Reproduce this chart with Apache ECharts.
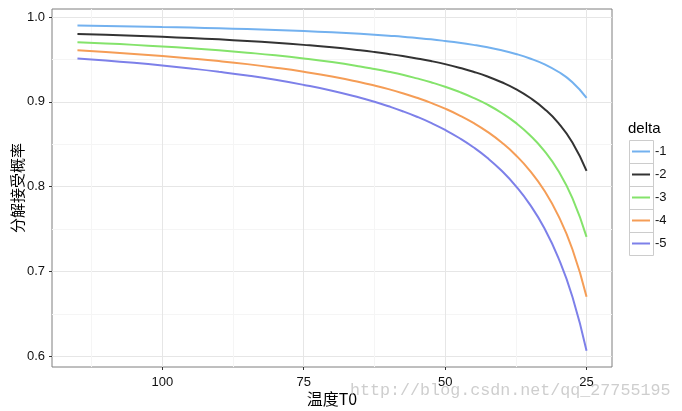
<!DOCTYPE html>
<html><head><meta charset="utf-8">
<script src="https://cdn.jsdelivr.net/npm/echarts@6/dist/echarts.min.js"></script>
<style>html,body{margin:0;padding:0;background:#fff}#c{width:682px;height:411px}</style>
</head><body><div id="c"></div>
<script>
// Temperature T0 (x)
const temps = [115,110,105,100,95,90,85,80,75,70,65,62.5,60,57.5,55,52.5,50,47.5,45,42.5,40,37.5,35,32.5,30,27.5,25];
// acceptance probability per delta
const d1 = [0.9900,0.9895,0.9890,0.9883,0.9876,0.9868,0.9858,0.9847,0.9835,0.9820,0.9802,0.9792,0.9780,0.9768,0.9753,0.9737,0.9718,0.9697,0.9672,0.9643,0.9608,0.9565,0.9512,0.9445,0.9355,0.9231,0.9048];
const d2 = [0.9801,0.9792,0.9780,0.9767,0.9753,0.9737,0.9718,0.9697,0.9672,0.9643,0.9608,0.9588,0.9565,0.9540,0.9512,0.9481,0.9445,0.9403,0.9355,0.9299,0.9231,0.9150,0.9048,0.8920,0.8752,0.8521,0.8187];
const d3 = [0.9704,0.9689,0.9672,0.9653,0.9632,0.9608,0.9580,0.9549,0.9512,0.9469,0.9418,0.9388,0.9355,0.9319,0.9277,0.9231,0.9179,0.9118,0.9048,0.8967,0.8869,0.8752,0.8607,0.8425,0.8187,0.7866,0.7408];
const d4 = [0.9608,0.9588,0.9565,0.9540,0.9512,0.9481,0.9445,0.9403,0.9355,0.9299,0.9231,0.9192,0.9150,0.9102,0.9048,0.8988,0.8920,0.8842,0.8752,0.8646,0.8521,0.8371,0.8187,0.7957,0.7659,0.7262,0.6703];
const d5 = [0.9512,0.9487,0.9460,0.9429,0.9394,0.9355,0.9311,0.9260,0.9200,0.9131,0.9048,0.9001,0.8948,0.8890,0.8825,0.8752,0.8669,0.8574,0.8465,0.8338,0.8187,0.8007,0.7788,0.7515,0.7165,0.6703,0.6065];
const seriesNames = ['-1','-2','-3','-4','-5'];
const seriesData = [d1,d2,d3,d4,d5];
const colors = ['#73b1ef','#333333','#84e36b','#f59d56','#7d80e9'];
const xTicks = [25,50,75,100];
const xMinor = [37.5,62.5,87.5,112.5];
const yTicks = [0.6,0.7,0.8,0.9,1.0];
const yMinor = [0.65,0.75,0.85,0.95];

const chart = echarts.init(document.getElementById('c'));
const grid = {left:52, right:70, top:9, bottom:44, show:true, borderColor:'#7f7f7f', borderWidth:1,
  backgroundColor:'#fff', containLabel:false, outerBoundsMode:'none'};
const font = 'Liberation Sans, Arial, sans-serif';
const cjk = '"Noto Sans CJK SC", sans-serif';
const xRange = {min:20.5, max:119.5};
const yRange = {min:0.5874, max:1.0095};

const option = {
  animation:false,
  grid: grid,
  xAxis: [
    {type:'value', inverse:true, min:xRange.min, max:xRange.max,
     name:'温度T0', nameLocation:'middle', nameGap:24, nameMoveOverlap:false,
     nameTextStyle:{fontFamily:cjk, fontSize:16, color:'#000', verticalAlign:'top'},
     axisLine:{show:false},
     axisTick:{show:true, length:3, customValues:xTicks, lineStyle:{color:'#333'}},
     axisLabel:{customValues:xTicks, margin:9, fontFamily:font, fontSize:13, color:'#111'},
     splitLine:{show:true, lineStyle:{color:'#e6e6e6', width:1}}},
    {type:'value', inverse:true, min:xRange.min, max:xRange.max, show:true, position:'bottom',
     axisLine:{show:false}, axisLabel:{show:false},
     axisTick:{show:false, customValues:xMinor},
     splitLine:{show:true, lineStyle:{color:'#f5f5f5', width:1}}}
  ],
  yAxis: [
    {type:'value', min:yRange.min, max:yRange.max,
     name:'分解接受概率', nameLocation:'middle', nameGap:27, nameRotate:90, nameMoveOverlap:false,
     nameTextStyle:{fontFamily:cjk, fontSize:15, color:'#000'},
     axisLine:{show:false},
     axisTick:{show:true, length:3, customValues:yTicks, lineStyle:{color:'#333'}},
     axisLabel:{customValues:yTicks, margin:7, fontFamily:font, fontSize:13, color:'#111',
                formatter: v => v.toFixed(1)},
     splitLine:{show:true, lineStyle:{color:'#e6e6e6', width:1}}},
    {type:'value', min:yRange.min, max:yRange.max, show:true, position:'left',
     axisLine:{show:false}, axisLabel:{show:false},
     axisTick:{show:false, customValues:yMinor},
     splitLine:{show:true, lineStyle:{color:'#f5f5f5', width:1}}}
  ],
  legend: {
    orient:'vertical', left:632, top:140, itemGap:0, itemWidth:18, itemHeight:2, padding:0,
    icon:'rect', data:seriesNames,
    textStyle:{fontFamily:font, fontSize:13, color:'#111', lineHeight:23},
    selectedMode:false
  },
  graphic: [
    {type:'text', x:628, y:121, style:{text:'delta', fontFamily:font, fontSize:15, fill:'#000'}},
    {type:'rect', shape:{x:629.5, y:140.5, width:24, height:115}, style:{fill:'none', stroke:'#cccccc', lineWidth:1}, z:-1},
    {type:'text', x:350, y:382, style:{text:'http://blog.csdn.net/qq_27755195', fontFamily:'Liberation Mono, monospace', fontSize:16.7, fill:'rgba(190,190,190,0.75)'}, z:100}
  ],
  series: seriesNames.map((n,i)=>({
    name:n, type:'line', xAxisIndex:0, yAxisIndex:0, smooth:0.5, showSymbol:false, symbol:'none',
    lineStyle:{color:colors[i], width:2}, itemStyle:{color:colors[i]},
    data: temps.map((t,j)=>[t, seriesData[i][j]])
  }))
};
// key box separators
for (let k=1;k<5;k++){
  option.graphic.push({type:'line', shape:{x1:629.5, y1:140.5+23*k, x2:653.5, y2:140.5+23*k}, style:{stroke:'#cccccc', lineWidth:1}, z:-1});
}
chart.setOption(option);
</script></body></html>
